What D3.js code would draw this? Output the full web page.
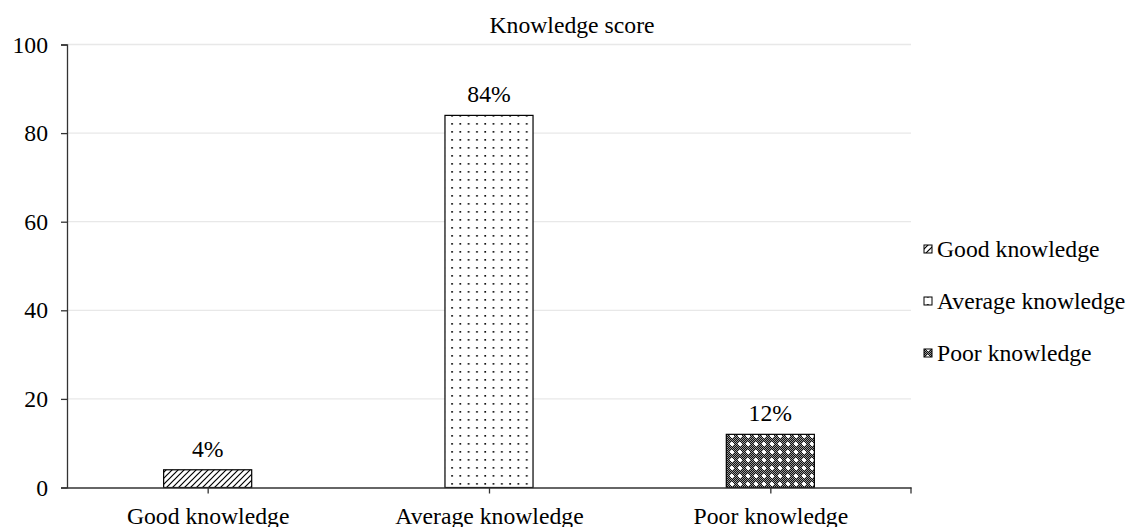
<!DOCTYPE html>
<html>
<head>
<meta charset="utf-8">
<script src="https://cdn.jsdelivr.net/npm/d3@7"></script>
<style>
  html, body { margin: 0; padding: 0; background: #fff; }
  svg { display: block; }
  svg text { font-family: "Liberation Serif", "Tinos", "Times New Roman", Times, "DejaVu Serif", serif !important; fill: #000; }
</style>
</head>
<body>
<svg id="chart" width="1136" height="527"></svg>
<script>
const categories = ["Good knowledge", "Average knowledge", "Poor knowledge"];
const values = [4, 84, 12];
const valueLabels = ["4%", "84%", "12%"];
const yTicks = [0, 20, 40, 60, 80, 100];
const title = "Knowledge score";
const patterns = ["hatch", "dots", "checker"];

const W = 1136, H = 527;
const plot = { left: 67, right: 911, top: 44.5, bottom: 487.5 };
const FS = 23.7;
const FONT = "'Liberation Serif', 'Tinos', 'Times New Roman', Times, 'DejaVu Serif', serif";

const svg = d3.select("#chart").attr("font-family", FONT);
const defs = svg.append("defs");

// diagonal hatch
const ph = defs.append("pattern").attr("id", "hatch").attr("patternUnits", "userSpaceOnUse")
  .attr("width", 6).attr("height", 6);
ph.append("rect").attr("width", 6).attr("height", 6).attr("fill", "#fff");
ph.append("path").attr("d", "M0,6 L6,0 M-1.5,1.5 L1.5,-1.5 M4.5,7.5 L7.5,4.5")
  .attr("stroke", "#000").attr("stroke-width", 1.2);

// dots
const pd = defs.append("pattern").attr("id", "dots").attr("patternUnits", "userSpaceOnUse")
  .attr("width", 8.3).attr("height", 8);
pd.append("rect").attr("width", 8.3).attr("height", 8).attr("fill", "#fff");
pd.append("rect").attr("x", 3).attr("y", 3).attr("width", 1.7).attr("height", 1.7).attr("fill", "#111");

// dense checker with white crosses
const pc = defs.append("pattern").attr("id", "checker").attr("patternUnits", "userSpaceOnUse")
  .attr("width", 8).attr("height", 8);
pc.append("rect").attr("width", 8).attr("height", 8).attr("fill", "#111");
for (let i = 0; i < 8; i++) for (let j = 0; j < 8; j++) {
  if ((i + j) % 2 === 0) pc.append("rect").attr("x", i).attr("y", j).attr("width", 1).attr("height", 1).attr("fill", "#999");
}
pc.append("rect").attr("x", 3).attr("y", 2).attr("width", 2).attr("height", 4).attr("fill", "#fff");
pc.append("rect").attr("x", 2).attr("y", 3).attr("width", 4).attr("height", 2).attr("fill", "#fff");

const x = d3.scalePoint().domain(categories).range([plot.left, plot.right]).padding(0.5);
const y = d3.scaleLinear().domain([0, 100]).range([plot.bottom, plot.top]);
const barW = x.step() * 0.313;

// gridlines
svg.append("g").selectAll("line").data(yTicks.filter(d => d > 0)).join("line")
  .attr("x1", plot.left).attr("x2", plot.right)
  .attr("y1", d => y(d)).attr("y2", d => y(d))
  .attr("stroke", "#e8e8e8").attr("stroke-width", 1.3);

// bars
svg.append("g").selectAll("rect").data(values).join("rect")
  .attr("x", (d, i) => x(categories[i]) - barW / 2)
  .attr("y", d => y(d))
  .attr("width", barW)
  .attr("height", d => y(0) - y(d))
  .attr("fill", (d, i) => `url(#${patterns[i]})`)
  .attr("stroke", "#000").attr("stroke-width", 1.2);

// value labels
svg.append("g").selectAll("text").data(values).join("text")
  .attr("x", (d, i) => x(categories[i]))
  .attr("y", d => y(d) - 13)
  .attr("text-anchor", "middle")
  .style("font-size", FS + "px")
  .text((d, i) => valueLabels[i]);

// y axis
const yAxis = d3.axisLeft(y).tickValues(yTicks).tickSize(6).tickPadding(13);
const gy = svg.append("g").attr("transform", `translate(${plot.left},0)`).call(yAxis).attr("font-family", FONT);
gy.select(".domain").attr("stroke", "#333").attr("stroke-width", 1.3);
gy.selectAll(".tick line").attr("stroke", "#333").attr("stroke-width", 1.3);
gy.selectAll(".tick text").style("font-size", FS + "px").attr("fill", "#000");

// x axis
const xAxis = d3.axisBottom(x).tickSize(6).tickSizeOuter(0).tickPadding(14);
const gx = svg.append("g").attr("transform", `translate(0,${plot.bottom})`).call(xAxis).attr("font-family", FONT);
gx.select(".domain").attr("stroke", "#333").attr("stroke-width", 1.3);
gx.selectAll(".tick line").attr("stroke", "#333").attr("stroke-width", 1.3);
gx.selectAll(".tick text").style("font-size", FS + "px").attr("fill", "#000")
  .attr("dy", null).attr("y", 36);
gx.append("line").attr("x1", plot.right).attr("x2", plot.right).attr("y1", 0).attr("y2", 6)
  .attr("stroke", "#333").attr("stroke-width", 1.3);

// title
svg.append("text").attr("x", 572).attr("y", 33).attr("text-anchor", "middle")
  .style("font-size", FS + "px").text(title);

// legend
const legY = [249, 301, 353];
const lg = svg.append("g").selectAll("g").data(categories).join("g")
  .attr("transform", (d, i) => `translate(924,${legY[i]})`);
lg.append("rect").attr("x", 0).attr("y", -4).attr("width", 8).attr("height", 8)
  .attr("fill", (d, i) => `url(#${patterns[i]})`).attr("stroke", "#000").attr("stroke-width", 1);
lg.append("text").attr("x", 13).attr("y", 8).style("font-size", FS + "px").text(d => d);
</script>
</body>
</html>
